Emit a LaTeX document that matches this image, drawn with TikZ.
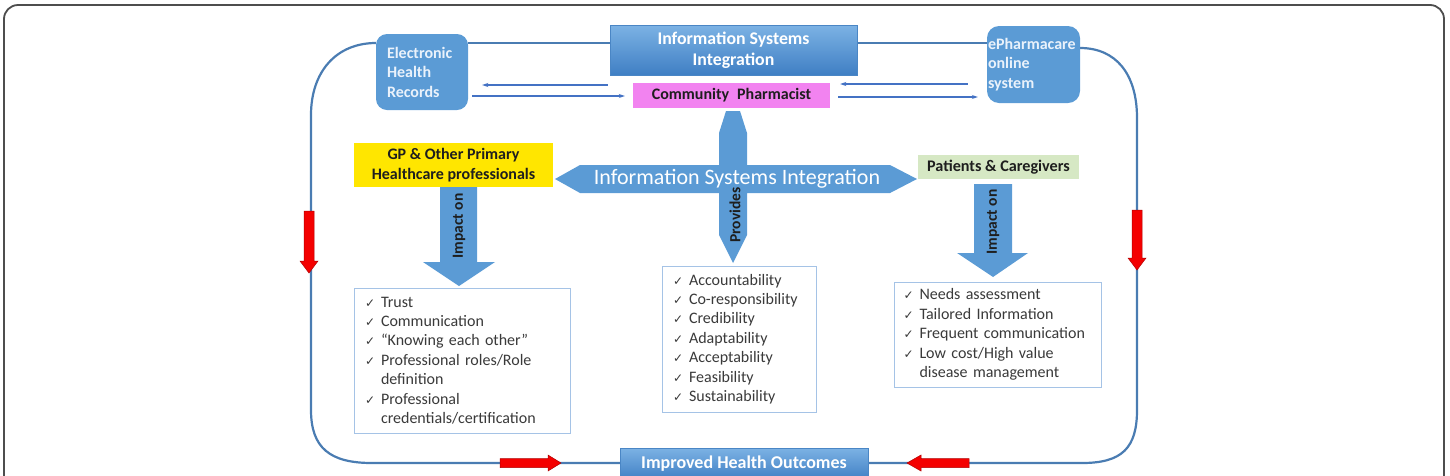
\documentclass[tikz,border=0pt]{standalone}
\usepackage{fontspec}
\setmainfont{Carlito}
\newfontfamily\symfont{DejaVu Sans}
\usetikzlibrary{arrows.meta,calc}

\definecolor{blu}{HTML}{5B9BD5}
\definecolor{blutop}{HTML}{7CB2E4}
\definecolor{blubot}{HTML}{3F7FC4}
\definecolor{bluedge}{HTML}{4A86C5}
\definecolor{loopc}{HTML}{4A7CB2}
\definecolor{arrc}{HTML}{4472C4}
\definecolor{gpy}{HTML}{FFE600}
\definecolor{pinkc}{HTML}{F283F0}
\definecolor{pgreen}{HTML}{D6E8C4}
\definecolor{lbord}{HTML}{A5C3E6}
\definecolor{ltext}{HTML}{3A3A3A}
\definecolor{dtext}{HTML}{1E1E1E}
\definecolor{ehrtext}{HTML}{EAF2FB}
\definecolor{redar}{HTML}{F40000}
\definecolor{redline}{HTML}{B00000}
\definecolor{framec}{HTML}{4D4D4D}

\newcommand{\ck}{\makebox[16pt][l]{\symfont\fontsize{12}{12}\selectfont ✓}}
\newcommand{\indentitem}{\hspace*{16pt}}

\tikzset{
  lbl/.style={font=\fontsize{16}{19.5}\selectfont\bfseries},
  roundblue/.style={fill=blu, rounded corners=11pt, text=ehrtext, lbl, align=left},
  gradbox/.style={top color=blutop, bottom color=blubot, draw=bluedge, line width=0.8pt, text=white, lbl},
  listbox/.style={draw=lbord, line width=0.9pt, fill=white, text=ltext, align=left,
    font=\fontsize{16}{19.4}\selectfont, inner ysep=0pt,
    execute at begin node={\hyphenpenalty=10000\relax}},
  redarrow/.style={fill=redar, draw=redline, line width=0.5pt},
  loopline/.style={draw=loopc, line width=2.2pt},
  sarrow/.style={draw=arrc, line width=1.2pt, -{Stealth[length=6pt,width=4pt]}},
  vlabel/.style={rotate=90, text=dtext, font=\fontsize{15.5}{16}\selectfont\bfseries, inner sep=0pt}
}

\begin{document}
\begin{tikzpicture}[x=1pt, y=-1pt]
\useasboundingbox (0,0) rectangle (1450,475);
\clip (0,0) rectangle (1450,475);

% outer frame
\draw[framec, line width=1.8pt, rounded corners=14pt] (4,5) rectangle (1444,520);

% loop coordinates
\coordinate (l0) at (376,43);
\coordinate (r0) at (1080,48);
\coordinate (bl) at (372,463);
\coordinate (br) at (1082,463);
\coordinate (ehrE) at (468,43);
\coordinate (isiW) at (610,43);
\coordinate (isiE) at (857,43);
\coordinate (ephW) at (987,43);
\coordinate (ihoW) at (620,463);
\coordinate (ihoE) at (868,463);

% loop line (drawn first, behind the boxes)
\draw[loopline] (l0) .. controls (336,43) and (311,72) .. (311,115) -- (311,410)
  .. controls (311,448) and (330,463) .. (bl) -- (ihoW);
\draw[loopline] (ihoE) -- (br) .. controls (1122,463) and (1137,448) .. (1137,410)
  -- (1137,118) .. controls (1137,74) and (1116,48) .. (r0);
\draw[loopline] (ehrE) -- (isiW);
\draw[loopline] (isiE) -- (ephW);

% main nodes
\node[roundblue, minimum width=92pt, minimum height=76pt, text width=70pt, inner xsep=11pt] (ehr) at (422,72) {Electronic\\Health\\Records};
\node[gradbox, minimum width=247pt, minimum height=50pt, align=center, font=\fontsize{17.8}{21}\selectfont\bfseries] (isitop) at (733.5,50) {Information Systems\\Integration};
\node[fill=pinkc, minimum width=197pt, minimum height=25pt, text=dtext, lbl, inner sep=0pt] (cp) at (731.5,95.5) {Community\enspace Pharmacist};
\node[roundblue, rounded corners=12pt, minimum width=93pt, minimum height=77pt, text width=91pt, inner xsep=1pt] (eph) at (1033.5,64.5) {ePharmacare\\online\\system};
\node[gradbox, minimum width=248pt, minimum height=32pt, inner sep=0pt, font=\fontsize{18}{20}\selectfont\bfseries] (iho) at (744,464) {Improved Health Outcomes};

% small arrows
\draw[sarrow] ($(cp.west)+(-25,-10.5)$) -- ($(ehr.east)+(14,13)$);
\draw[sarrow] ($(ehr.east)+(4,24)$) -- ($(cp.west)+(-8,0.5)$);
\draw[sarrow] ($(eph.west)+(-19,19.5)$) -- ($(cp.east)+(10,-11.5)$);
\draw[sarrow] ($(cp.east)+(8,1.5)$) -- ($(eph.west)+(-9,32.5)$);

% central cross arrow
\fill[blu] (555,179) -- (580,165) -- (719,165) -- (719,133) -- (726,111) -- (740,111) -- (747,133)
  -- (747,165) -- (890,165) -- (917,179) -- (890,193) -- (747,193) -- (747,235) -- (733,263)
  -- (719,235) -- (719,193) -- (580,193) -- cycle;
\node[text=white, font=\fontsize{22}{22}\selectfont, inner sep=0pt] (isi) at (737,179) {Information Systems Integration};
\node[vlabel] (prov) at (735,215) {Provides};

% side boxes
\node[fill=gpy, minimum width=199pt, minimum height=44pt, text=dtext, lbl, align=center, inner sep=0pt] (gp) at (453.5,165) {GP \& Other Primary\\Healthcare professionals};
\node[fill=pgreen, minimum width=161pt, minimum height=24pt, text=dtext, font=\fontsize{16.2}{18}\selectfont\bfseries, inner sep=0pt] (pc) at (998.5,167) {Patients \& Caregivers};

% impact arrows
\fill[blu] (440,187) -- (477,187) -- (477,262) -- (495,262) -- (459,286) -- (423,262) -- (440,262) -- cycle;
\node[vlabel] (imp1) at (459,226) {Impact on};
\fill[blu] (974,184) -- (1012,184) -- (1012,253) -- (1028,253) -- (993,277) -- (957,253) -- (974,253) -- cycle;
\node[vlabel] (imp2) at (993,222) {Impact on};

% lists
\node[listbox, minimum width=216pt, minimum height=145pt, text width=194pt, inner xsep=11pt] (l1) at (462,360.5)
 {\ck Trust\\ \ck Communication\\ \ck “Knowing each other”\\ \ck Professional roles/Role\\ \indentitem definition\\ \ck Professional\\ \indentitem credentials/certification};
\node[listbox, minimum width=154pt, minimum height=146pt, text width=132pt, inner xsep=11pt] (l2) at (739,339)
 {\ck Accountability\\ \ck Co-responsibility\\ \ck Credibility\\ \ck Adaptability\\ \ck Acceptability\\ \ck Feasibility\\ \ck Sustainability};
\node[listbox, minimum width=207pt, minimum height=105pt, text width=188pt, inner xsep=9.5pt] (l3) at (997.5,334.5)
 {\ck Needs assessment\\ \ck Tailored Information\\ \ck Frequent communication\\ \ck Low cost/High value\\ \indentitem disease management};

% red arrows
\draw[redarrow] (304,211) -- (314,211) -- (314,261) -- (318,261) -- (309,273) -- (300,261) -- (304,261) -- cycle;
\draw[redarrow] (1132,210) -- (1142,210) -- (1142,258) -- (1146,258) -- (1137,270) -- (1128,258) -- (1132,258) -- cycle;
\draw[redarrow] (500,458.5) -- (548,458.5) -- (548,455) -- (561,463) -- (548,471) -- (548,467.5) -- (500,467.5) -- cycle;
\draw[redarrow] (969,458.5) -- (921,458.5) -- (921,455) -- (907,463) -- (921,471) -- (921,467.5) -- (969,467.5) -- cycle;
\end{tikzpicture}
\end{document}
